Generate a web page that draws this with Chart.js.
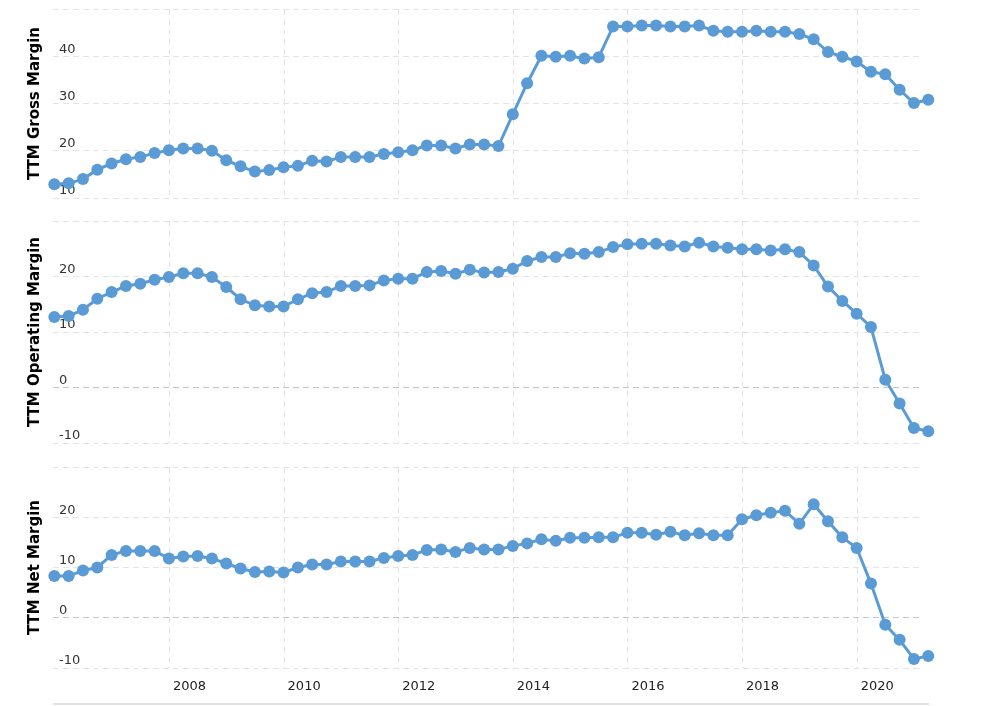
<!DOCTYPE html>
<html>
<head>
<meta charset="utf-8">
<script src="https://cdn.jsdelivr.net/npm/chart.js@4.4.1/dist/chart.umd.min.js"></script>
<style>
  body { margin: 0; background: #fff; }
  #wrap { position: relative; width: 982px; height: 706px; overflow: hidden; }
  canvas { position: absolute; left: 0; }
  #scrollLine { position: absolute; left: 53px; top: 703px; width: 876px; height: 2px; background: #e2e2e2; }
</style>
</head>
<body>
<div id="wrap">
  <canvas id="grossChart" width="982" height="215" style="top:0"></canvas>
  <canvas id="operChart" width="982" height="240" style="top:215px"></canvas>
  <canvas id="netChart" width="982" height="251" style="top:455px"></canvas>
  <div id="scrollLine"></div>
</div>
<script>
// quarter ends (year-month)
const quarters = [
  "2005-12", "2006-03", "2006-06", "2006-09", "2006-12", "2007-03", "2007-06", "2007-09",
  "2007-12", "2008-03", "2008-06", "2008-09", "2008-12", "2009-03", "2009-06", "2009-09",
  "2009-12", "2010-03", "2010-06", "2010-09", "2010-12", "2011-03", "2011-06", "2011-09",
  "2011-12", "2012-03", "2012-06", "2012-09", "2012-12", "2013-03", "2013-06", "2013-09",
  "2013-12", "2014-03", "2014-06", "2014-09", "2014-12", "2015-03", "2015-06", "2015-09",
  "2015-12", "2016-03", "2016-06", "2016-09", "2016-12", "2017-03", "2017-06", "2017-09",
  "2017-12", "2018-03", "2018-06", "2018-09", "2018-12", "2019-03", "2019-06", "2019-09",
  "2019-12", "2020-03", "2020-06", "2020-09", "2020-12", "2021-03"
];

const grossMargin = [
  12.9, 13.1, 14.0, 16.0, 17.3, 18.2, 18.7, 19.5, 20.1, 20.5,
  20.5, 20.0, 18.0, 16.7, 15.6, 15.9, 16.5, 16.8, 17.9, 17.7,
  18.7, 18.7, 18.7, 19.3, 19.7, 20.1, 21.1, 21.1, 20.5, 21.3,
  21.3, 21.0, 27.7, 34.3, 40.1, 39.9, 40.1, 39.5, 39.8, 46.3,
  46.3, 46.5, 46.5, 46.3, 46.3, 46.5, 45.4, 45.2, 45.2, 45.4,
  45.2, 45.2, 44.7, 43.6, 40.9, 39.9, 38.9, 36.7, 36.2, 32.9,
  30.1, 30.8
];

const operatingMargin = [
  12.7, 12.9, 14.0, 16.0, 17.2, 18.3, 18.7, 19.4, 19.9, 20.6,
  20.6, 19.9, 18.1, 15.9, 14.8, 14.6, 14.6, 15.9, 17.0, 17.2,
  18.3, 18.3, 18.4, 19.3, 19.6, 19.6, 20.8, 21.0, 20.5, 21.2,
  20.7, 20.8, 21.4, 22.8, 23.5, 23.5, 24.2, 24.1, 24.4, 25.3,
  25.8, 25.9, 25.9, 25.6, 25.4, 26.1, 25.4, 25.2, 24.9, 24.9,
  24.7, 24.9, 24.4, 22.0, 18.2, 15.6, 13.3, 10.9, 1.4, -2.9,
  -7.3, -7.9
];

const netMargin = [
  8.3, 8.3, 9.4, 10.0, 12.5, 13.3, 13.3, 13.3, 11.8, 12.2,
  12.3, 11.8, 10.8, 9.8, 9.1, 9.2, 9.0, 10.0, 10.6, 10.6,
  11.2, 11.2, 11.2, 11.9, 12.3, 12.5, 13.5, 13.6, 13.1, 13.9,
  13.6, 13.6, 14.3, 14.8, 15.6, 15.3, 15.9, 15.9, 16.0, 16.0,
  16.9, 16.9, 16.5, 17.1, 16.4, 16.8, 16.4, 16.4, 19.6, 20.4,
  20.9, 21.3, 18.7, 22.6, 19.2, 16.0, 13.9, 6.8, -1.4, -4.4,
  -8.2, -7.6
];

const yearTicks = [2008, 2010, 2012, 2014, 2016, 2018, 2020];
const xMin = 2005.967;
const xMax = 2021.148;

const blue = "#5b9bd5";
const gridColor = "#e4e4e4";
const zeroColor = "#c6c6c6";

function toYear(q) {
  const [y, m] = q.split("-").map(Number);
  return y + m / 12 - 0.01;
}

function buildChart(id, title, values, yMin, yMax, opts) {
  const points = values.map((v, i) => ({ x: toYear(quarters[i]), y: v }));

  return new Chart(document.getElementById(id), {
    type: "line",
    data: {
      datasets: [{
        data: points,
        borderColor: blue,
        backgroundColor: blue,
        borderWidth: 3,
        pointRadius: 6,
        pointBorderWidth: 0,
        pointBackgroundColor: blue,
        tension: 0,
        clip: false
      }]
    },
    options: {
      responsive: false,
      animation: false,
      layout: { padding: { left: 22, right: 59, top: opts.top, bottom: 0 } },
      plugins: { legend: { display: false }, tooltip: { enabled: false } },
      scales: {
        x: {
          type: "linear",
          min: xMin,
          max: xMax,
          afterBuildTicks: (s) => { s.ticks = yearTicks.map((v) => ({ value: v })); },
          afterFit: (s) => {
            s.height = opts.xHeight;
            s.paddingLeft = 0;
            s.paddingRight = 0;
          },
          grid: { color: gridColor, drawTicks: false, lineWidth: 1 },
          border: { display: false, dash: [6, 4] },
          ticks: {
            display: opts.showX,
            autoSkip: false,
            maxRotation: 0,
            labelOffset: 20,
            padding: 11,
            color: "#222",
            font: { family: "DejaVu Sans", size: 13 },
            callback: (v) => String(v)
          }
        },
        y: {
          min: yMin,
          max: yMax,
          afterFit: (s) => {
            s.width = 31;
            s.paddingTop = 0;
            s.paddingBottom = 0;
          },
          grid: {
            drawTicks: false,
            color: (c) => (c.tick && c.tick.value === 0 ? zeroColor : gridColor)
          },
          border: { display: false, dash: [6, 4] },
          ticks: {
            stepSize: 10,
            mirror: true,
            padding: 6,
            labelOffset: -7,
            color: "#333",
            font: { family: "DejaVu Sans", size: 13 },
            callback: (v) => (v === yMax ? "" : String(v))
          },
          title: {
            display: true,
            text: title,
            color: "#000",
            padding: { top: 4, bottom: 0 },
            font: { family: "DejaVu Sans", size: 15, weight: "bold" }
          }
        }
      }
    }
  });
}

buildChart("grossChart", "TTM Gross Margin", grossMargin, 10, 50, { top: 9, xHeight: 17, showX: false });
buildChart("operChart", "TTM Operating Margin", operatingMargin, -10, 30, { top: 6, xHeight: 12, showX: false });
buildChart("netChart", "TTM Net Margin", netMargin, -10, 30, { top: 12, xHeight: 38, showX: true });
</script>
</body>
</html>
